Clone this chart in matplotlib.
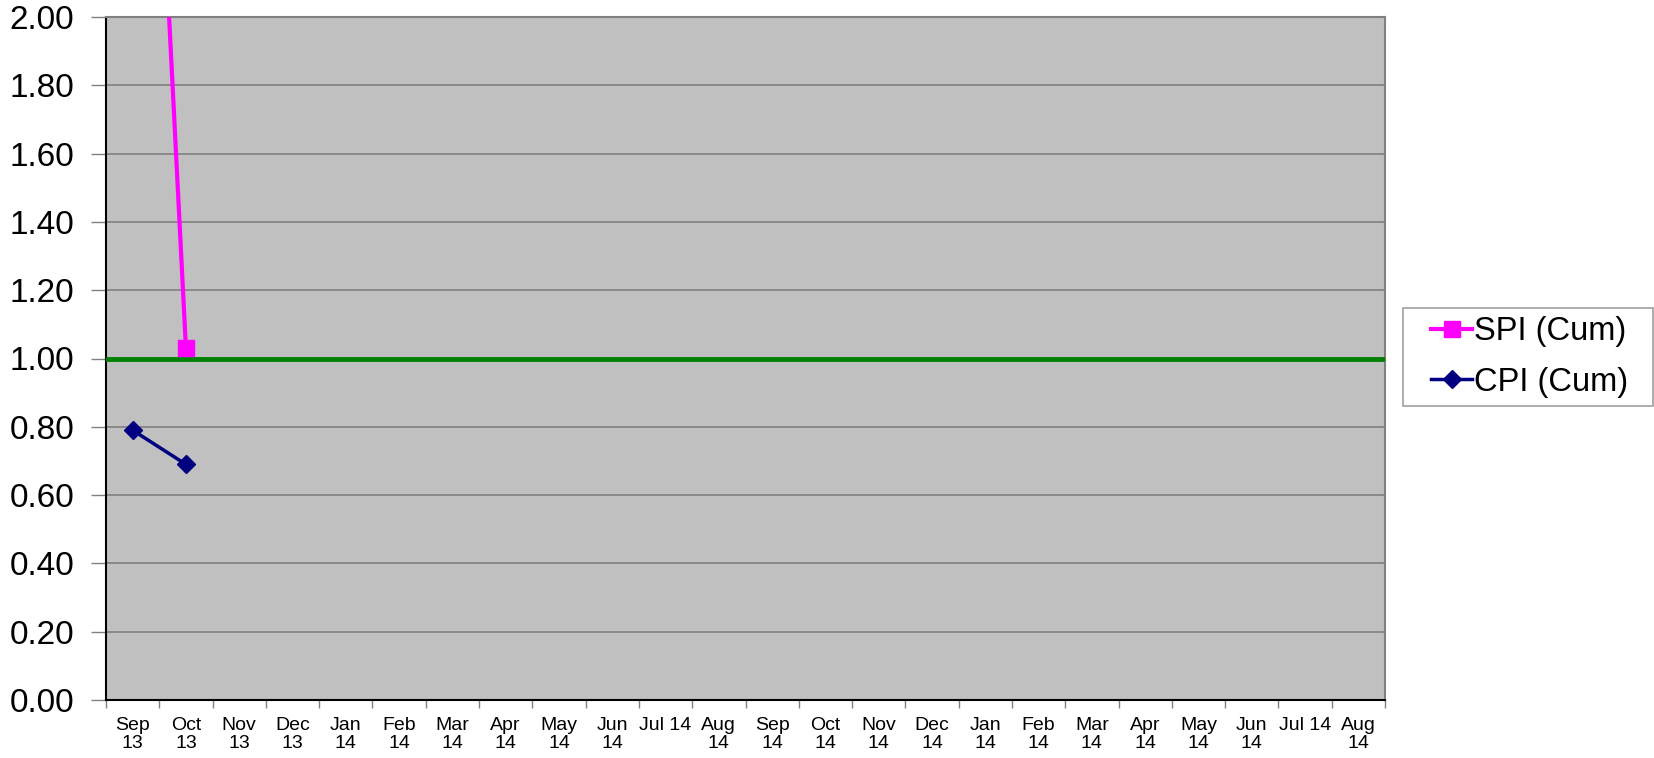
import matplotlib
matplotlib.use('Agg')
import matplotlib.pyplot as plt
from matplotlib.patches import Rectangle
import numpy as np

plt.rcParams['font.family'] = ['Liberation Sans', 'DejaVu Sans']

# month labels (second run repeats the "14" year as in the source sheet)
months = ['Sep\n13', 'Oct\n13', 'Nov\n13', 'Dec\n13', 'Jan\n14', 'Feb\n14',
          'Mar\n14', 'Apr\n14', 'May\n14', 'Jun\n14', 'Jul 14', 'Aug\n14',
          'Sep\n14', 'Oct\n14', 'Nov\n14', 'Dec\n14', 'Jan\n14', 'Feb\n14',
          'Mar\n14', 'Apr\n14', 'May\n14', 'Jun\n14', 'Jul 14', 'Aug\n14']
spi_cum = [4.1, 1.03]
cpi_cum = [0.79, 0.69]
target = 1.00
yticks = [0.0, 0.2, 0.4, 0.6, 0.8, 1.0, 1.2, 1.4, 1.6, 1.8, 2.0]

W, H = 1654, 758
fig = plt.figure(figsize=(W/100, H/100), dpi=100)
ax = fig.add_axes([106/W, 1-700/H, (1385-106)/W, (700-17)/H])
ax.set_facecolor('#C0C0C0')

xpos = np.arange(len(months))
ax.set_xlim(-0.5, len(months)-0.5)
ax.set_ylim(0, 2.0)

ax.set_yticks(yticks)
ax.set_yticklabels(['%.2f' % v for v in yticks])
ax.yaxis.grid(True, color='#808080', lw=1.2)
ax.set_axisbelow(True)

ax.axhline(target, color='#008000', lw=3.5, zorder=3)

ax.plot(xpos[:len(spi_cum)], spi_cum, color='#FF00FF', lw=3, marker='s',
        ms=11, mec='#FF00FF', label='SPI (Cum)', zorder=4)
ax.plot(xpos[:len(cpi_cum)], cpi_cum, color='#000080', lw=2.5, marker='D',
        ms=9, mec='#000080', label='CPI (Cum)', zorder=4)

ax.set_xticks(xpos)
ax.set_xticklabels(months, fontsize=14, linespacing=1.1)
ax.set_xticks(np.arange(-0.5, len(months)), minor=True)
ax.tick_params(axis='x', which='major', length=0, pad=12)
ax.tick_params(axis='x', which='minor', length=6, color='#808080', width=1)
ax.tick_params(axis='y', length=11, color='#808080', width=1, labelsize=24, pad=12)

for s in ['left', 'bottom']:
    ax.spines[s].set_color('black')
    ax.spines[s].set_linewidth(1.5)
for s in ['top', 'right']:
    ax.spines[s].set_color('#808080')
    ax.spines[s].set_linewidth(1.5)

# legend frame drawn separately (Excel box has wider side padding)
fig.patches.append(Rectangle((1403/W, 1-406/H), (W-1-1403)/W, 98/H,
                             transform=fig.transFigure, facecolor='white',
                             edgecolor='#A0A0A0', lw=1.2, zorder=0))
leg = fig.legend(loc='center left', bbox_to_anchor=(1431/W, 1-357/H),
                 fontsize=23.5, frameon=False, handlelength=1.26,
                 handletextpad=0.05, borderpad=0, labelspacing=0.6,
                 borderaxespad=0)

fig.savefig('out.png', dpi=100)
